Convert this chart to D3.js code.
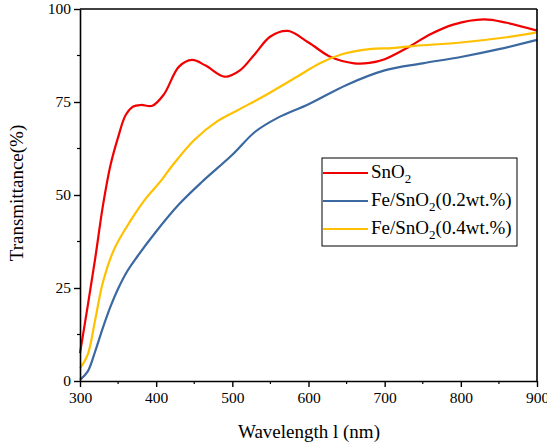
<!DOCTYPE html>
<html>
<head>
<meta charset="utf-8">
<script src="https://cdn.jsdelivr.net/npm/d3@7"></script>
<style>
  body { margin: 0; background: #fff; }
  text { font-family: "Liberation Serif", "Times New Roman", serif; fill: #000; }
</style>
</head>
<body>
<svg id="chart" width="547" height="447"></svg>
<script>
const snoWl = [300, 310, 320, 330, 340, 350, 360, 370, 380, 395, 410, 430, 447, 465, 490, 510, 530, 550, 573, 600, 630, 660, 680, 700, 730, 760, 790, 830, 860, 900];
const snoT  = [7.5, 20, 33, 47, 58, 65.5, 71.5, 73.8, 74.2, 74, 77, 84.5, 86.3, 84.8, 81.8, 83.5, 88, 92.6, 94.1, 91, 87, 85.4, 85.5, 86.5, 89.6, 93.2, 95.8, 97.2, 96.3, 94.2];

const fe02Wl = [300, 310, 320, 330, 340, 350, 362, 375, 400, 430, 460, 500, 530, 560, 600, 650, 700, 750, 800, 850, 900];
const fe02T  = [0.3, 2.5, 8, 14.3, 20, 24.8, 29.5, 33.4, 40.2, 47.5, 53.5, 60.8, 67, 70.8, 74.4, 79.6, 83.5, 85.4, 87.1, 89.2, 91.7];

const fe04Wl = [300, 310, 320, 330, 345, 367, 385, 407, 420, 450, 480, 507, 540, 585, 615, 645, 680, 710, 740, 800, 860, 900];
const fe04T  = [3.4, 7, 16.5, 26.5, 35.5, 43.3, 48.7, 54, 57.6, 64.8, 69.8, 72.8, 76.4, 81.8, 85.4, 87.9, 89.2, 89.5, 90.1, 91.0, 92.4, 93.7];

const seriesNames = ["SnO2", "Fe/SnO2(0.2wt.%)", "Fe/SnO2(0.4wt.%)"];
const seriesColors = ["#f00000", "#3a68a0", "#ffc000"];
const xTicks = [300, 400, 500, 600, 700, 800, 900];
const yTicks = [0, 25, 50, 75, 100];

const series = [
  { name: seriesNames[0], color: seriesColors[0], wl: snoWl, t: snoT },
  { name: seriesNames[1], color: seriesColors[1], wl: fe02Wl, t: fe02T },
  { name: seriesNames[2], color: seriesColors[2], wl: fe04Wl, t: fe04T }
];

const svg = d3.select("#chart");
const margin = { left: 80, right: 10, top: 9, bottom: 66 };
const w = 547 - margin.left - margin.right;
const h = 447 - margin.top - margin.bottom;

const g = svg.append("g").attr("transform", `translate(${margin.left},${margin.top})`);

const x = d3.scaleLinear().domain([300, 900]).range([0, w]);
const y = d3.scaleLinear().domain([0, 100]).range([h, 0]);

// smooth curves through the read points
const line = d3.line()
  .x(d => x(d[0]))
  .y(d => y(d[1]))
  .curve(d3.curveCatmullRom.alpha(0.5));

series.forEach(s => {
  const pts = s.wl.map((v, i) => [v, s.t[i]]);
  g.append("path")
    .datum(pts)
    .attr("fill", "none")
    .attr("stroke", s.color)
    .attr("stroke-width", 2.2)
    .attr("d", line);
});

// frame (top and right without ticks)
g.append("line").attr("x1", 0).attr("x2", w).attr("y1", 0).attr("y2", 0)
  .attr("stroke", "#000").attr("stroke-width", 1.6);
g.append("line").attr("x1", w).attr("x2", w).attr("y1", 0).attr("y2", h)
  .attr("stroke", "#000").attr("stroke-width", 1.6);

// minor ticks
const xMinor = d3.range(350, 900, 100);
const yMinor = d3.range(12.5, 100, 25);
g.selectAll(".xminor").data(xMinor).join("line")
  .attr("x1", d => x(d)).attr("x2", d => x(d)).attr("y1", h).attr("y2", h + 3)
  .attr("stroke", "#000").attr("stroke-width", 1.2);
g.selectAll(".yminor").data(yMinor).join("line")
  .attr("x1", 0).attr("x2", -3).attr("y1", d => y(d)).attr("y2", d => y(d))
  .attr("stroke", "#000").attr("stroke-width", 1.2);

const xAxis = g.append("g")
  .attr("transform", `translate(0,${h})`)
  .call(d3.axisBottom(x).tickValues(xTicks).tickSize(6).tickSizeOuter(0).tickPadding(5));
const yAxis = g.append("g")
  .call(d3.axisLeft(y).tickValues(yTicks).tickSize(6).tickSizeOuter(0).tickPadding(3));

[xAxis, yAxis].forEach(a => {
  a.select(".domain").attr("stroke", "#000").attr("stroke-width", 1.6);
  a.selectAll(".tick line").attr("stroke", "#000").attr("stroke-width", 1.4);
  a.selectAll(".tick text")
    .attr("font-family", "Liberation Serif, serif")
    .attr("font-size", 15.5)
    .attr("fill", "#000");
});

// axis titles
svg.append("text")
  .attr("x", 309)
  .attr("y", 438)
  .attr("text-anchor", "middle")
  .attr("font-size", 19)
  .text("Wavelength l (nm)");

svg.append("text")
  .attr("transform", `translate(23,${margin.top + h / 2 - 2}) rotate(-90)`)
  .attr("text-anchor", "middle")
  .attr("font-size", 19)
  .text("Transmittance(%)");

// legend
const lg = svg.append("g").attr("transform", "translate(322,158)");
lg.append("rect")
  .attr("width", 195).attr("height", 88)
  .attr("fill", "#fff").attr("stroke", "#000").attr("stroke-width", 1);

series.forEach((s, i) => {
  const yy = 15 + i * 28;
  lg.append("line")
    .attr("x1", 1).attr("x2", 46).attr("y1", yy).attr("y2", yy)
    .attr("stroke", s.color).attr("stroke-width", 2.2);
  const t = lg.append("text")
    .attr("x", 49).attr("y", yy + 5)
    .attr("font-size", 19);
  // subscript the "2" in SnO2
  const parts = s.name.split("SnO2");
  t.append("tspan").text(parts[0] + "SnO");
  t.append("tspan").attr("font-size", 13).attr("dy", 5).text("2");
  if (parts[1]) t.append("tspan").attr("dy", -5).text(parts[1]);
});
</script>
</body>
</html>
